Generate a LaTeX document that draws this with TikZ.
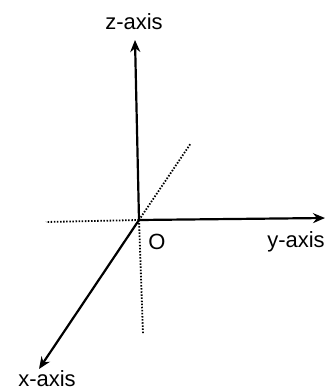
\documentclass[tikz,border=0pt]{standalone}
\usepackage{fontspec}
\setmainfont{Liberation Sans}
\usetikzlibrary{arrows.meta}
\begin{document}
\begin{tikzpicture}[x=1pt, y=-1pt, line width=2.2pt, line join=round, >={Stealth[length=12pt, width=10pt]}, font=\fontsize{22}{24}\selectfont]
	\tikzset{dotaxis/.style={line width=1.8pt, dash pattern=on 1.5pt off 1.6pt}}
	\useasboundingbox (0,0) rectangle (333,391);
	\coordinate (O) at (139,220);
	\coordinate (z) at (135,40); \coordinate (y) at (325,218); \coordinate (x) at (39,369);
	\coordinate (nz) at (143,334); \coordinate (ny) at (46,222); \coordinate (nx) at (191,143);
	\draw[dotaxis] (O) -- (nz);
	\draw[dotaxis] (O) -- (ny);
	\draw[dotaxis] (O) -- (nx);
	\draw[->] (O) -- (z);
	\draw[->] (O) -- (y);
	\draw[->] (O) -- (x);
	\node (zlabel) at (134,22) {z-axis};
	\node (ylabel) at (296,242) {y-axis};
	\node (xlabel) at (47,379) {x-axis};
	\node (olabel) at (157,242) {O};
\end{tikzpicture}
\end{document}
